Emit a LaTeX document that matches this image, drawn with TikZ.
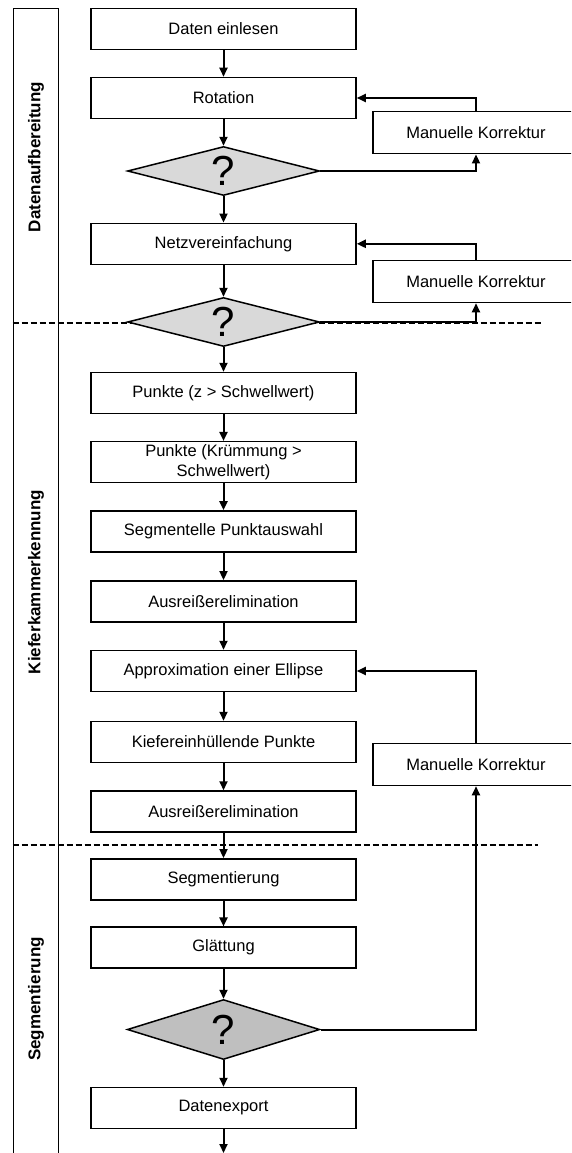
\documentclass[tikz,border=0pt]{standalone}
\usepackage{fontspec}
\setmainfont{Liberation Sans}
\usetikzlibrary{shapes.geometric,arrows.meta}
\definecolor{lightq}{HTML}{D9D9D9}
\definecolor{darkq}{HTML}{BFBFBF}
\begin{document}
\begin{tikzpicture}[x=1pt,y=-1pt,
  stepbox/.style={draw,line width=1.5pt,minimum width=265pt,minimum height=41pt,
    inner sep=0pt,align=center,font=\fontsize{16.5}{20}\selectfont},
  fixbox/.style={stepbox,minimum width=206pt,minimum height=42pt},
  query/.style={draw,line width=1.5pt,shape=diamond,inner sep=0pt,
    minimum width=192pt,minimum height=49pt,
    label={[font=\fontsize{42}{42}\selectfont,inner sep=0pt]center:?}},
  flow/.style={line width=2pt,-{Triangle[length=9pt,width=8pt]}},
  phase/.style={rotate=90,font=\fontsize{17}{17}\selectfont\bfseries},
  separator/.style={line width=2pt,dash pattern=on 6pt off 3pt}]

\clip (0,0) rectangle (571,1153);

% phase strip on the left
\draw[line width=1.5pt] (13.5,1160) -- (13.5,8.5) -- (58.5,8.5) -- (58.5,1160);
\node[phase] (ph1) at (36,157) {Datenaufbereitung};
\node[phase] (ph2) at (36,582) {Kieferkammerkennung};
\node[phase] (ph3) at (36,999) {Segmentierung};

% phase separators
\draw[separator] (12.7,322.5) -- (541.5,322.5);
\draw[separator] (12.7,845) -- (538,845);

% main column
\node[stepbox] (read) at (223.5,29) {Daten einlesen};
\node[stepbox] (rot) at (223.5,98) {Rotation};
\node[query,fill=lightq] (q1) at (223.5,171) {};
\node[stepbox] (net) at (223.5,243.8) {Netzvereinfachung};
\node[query,fill=lightq] (q2) at (223.5,322) {};
\node[stepbox] (pz) at (223.5,393) {Punkte (z > Schwellwert)};
\node[stepbox] (pk) at (223.5,462.2) {Punkte (Krümmung >\\Schwellwert)};
\node[stepbox] (sel) at (223.5,531.4) {Segmentelle Punktauswahl};
\node[stepbox] (out1) at (223.5,601.3) {Ausreißerelimination};
\node[stepbox] (ell) at (223.5,671) {Approximation einer Ellipse};
\node[stepbox] (env) at (223.5,742) {Kiefereinhüllende Punkte};
\node[stepbox] (out2) at (223.5,811.5) {Ausreißerelimination};
\node[stepbox] (segm) at (223.5,879.3) {Segmentierung};
\node[stepbox] (smooth) at (223.5,947.7) {Glättung};
\node[query,fill=darkq,minimum height=60pt,minimum width=192.5pt] (q3) at (223.5,1029.5) {};
\node[stepbox] (exp) at (223.5,1108) {Datenexport};
\coordinate (end) at (223.5,1153);

% manual correction boxes
\node[fixbox] (fix1) at (476,132.7) {Manuelle Korrektur};
\node[fixbox] (fix2) at (476,281.5) {Manuelle Korrektur};
\node[fixbox] (fix3) at (476,764.5) {Manuelle Korrektur};

% main flow
\draw[flow] (read) -- (rot);
\draw[flow] (rot) -- (q1);
\draw[flow] (q1) -- (net);
\draw[flow] (net) -- (q2);
\draw[flow] (q2) -- (pz);
\draw[flow] (pz) -- (pk);
\draw[flow] (pk) -- (sel);
\draw[flow] (sel) -- (out1);
\draw[flow] (out1) -- (ell);
\draw[flow] (ell) -- (env);
\draw[flow] (env) -- (out2);
\draw[flow] (out2) -- (segm);
\draw[flow] (segm) -- (smooth);
\draw[flow] (smooth) -- (q3);
\draw[flow] (q3) -- (exp);
\draw[flow] (exp) -- (end);

% correction loops
\draw[flow] (q1.east) -| (fix1.south);
\draw[flow] (fix1.north) |- (rot.east);
\draw[flow] (q2.east) -| (fix2.south);
\draw[flow] (fix2.north) |- (net.east);
\draw[flow] (q3.east) -| (fix3.south);
\draw[flow] (fix3.north) |- (ell.east);
\end{tikzpicture}
\end{document}
